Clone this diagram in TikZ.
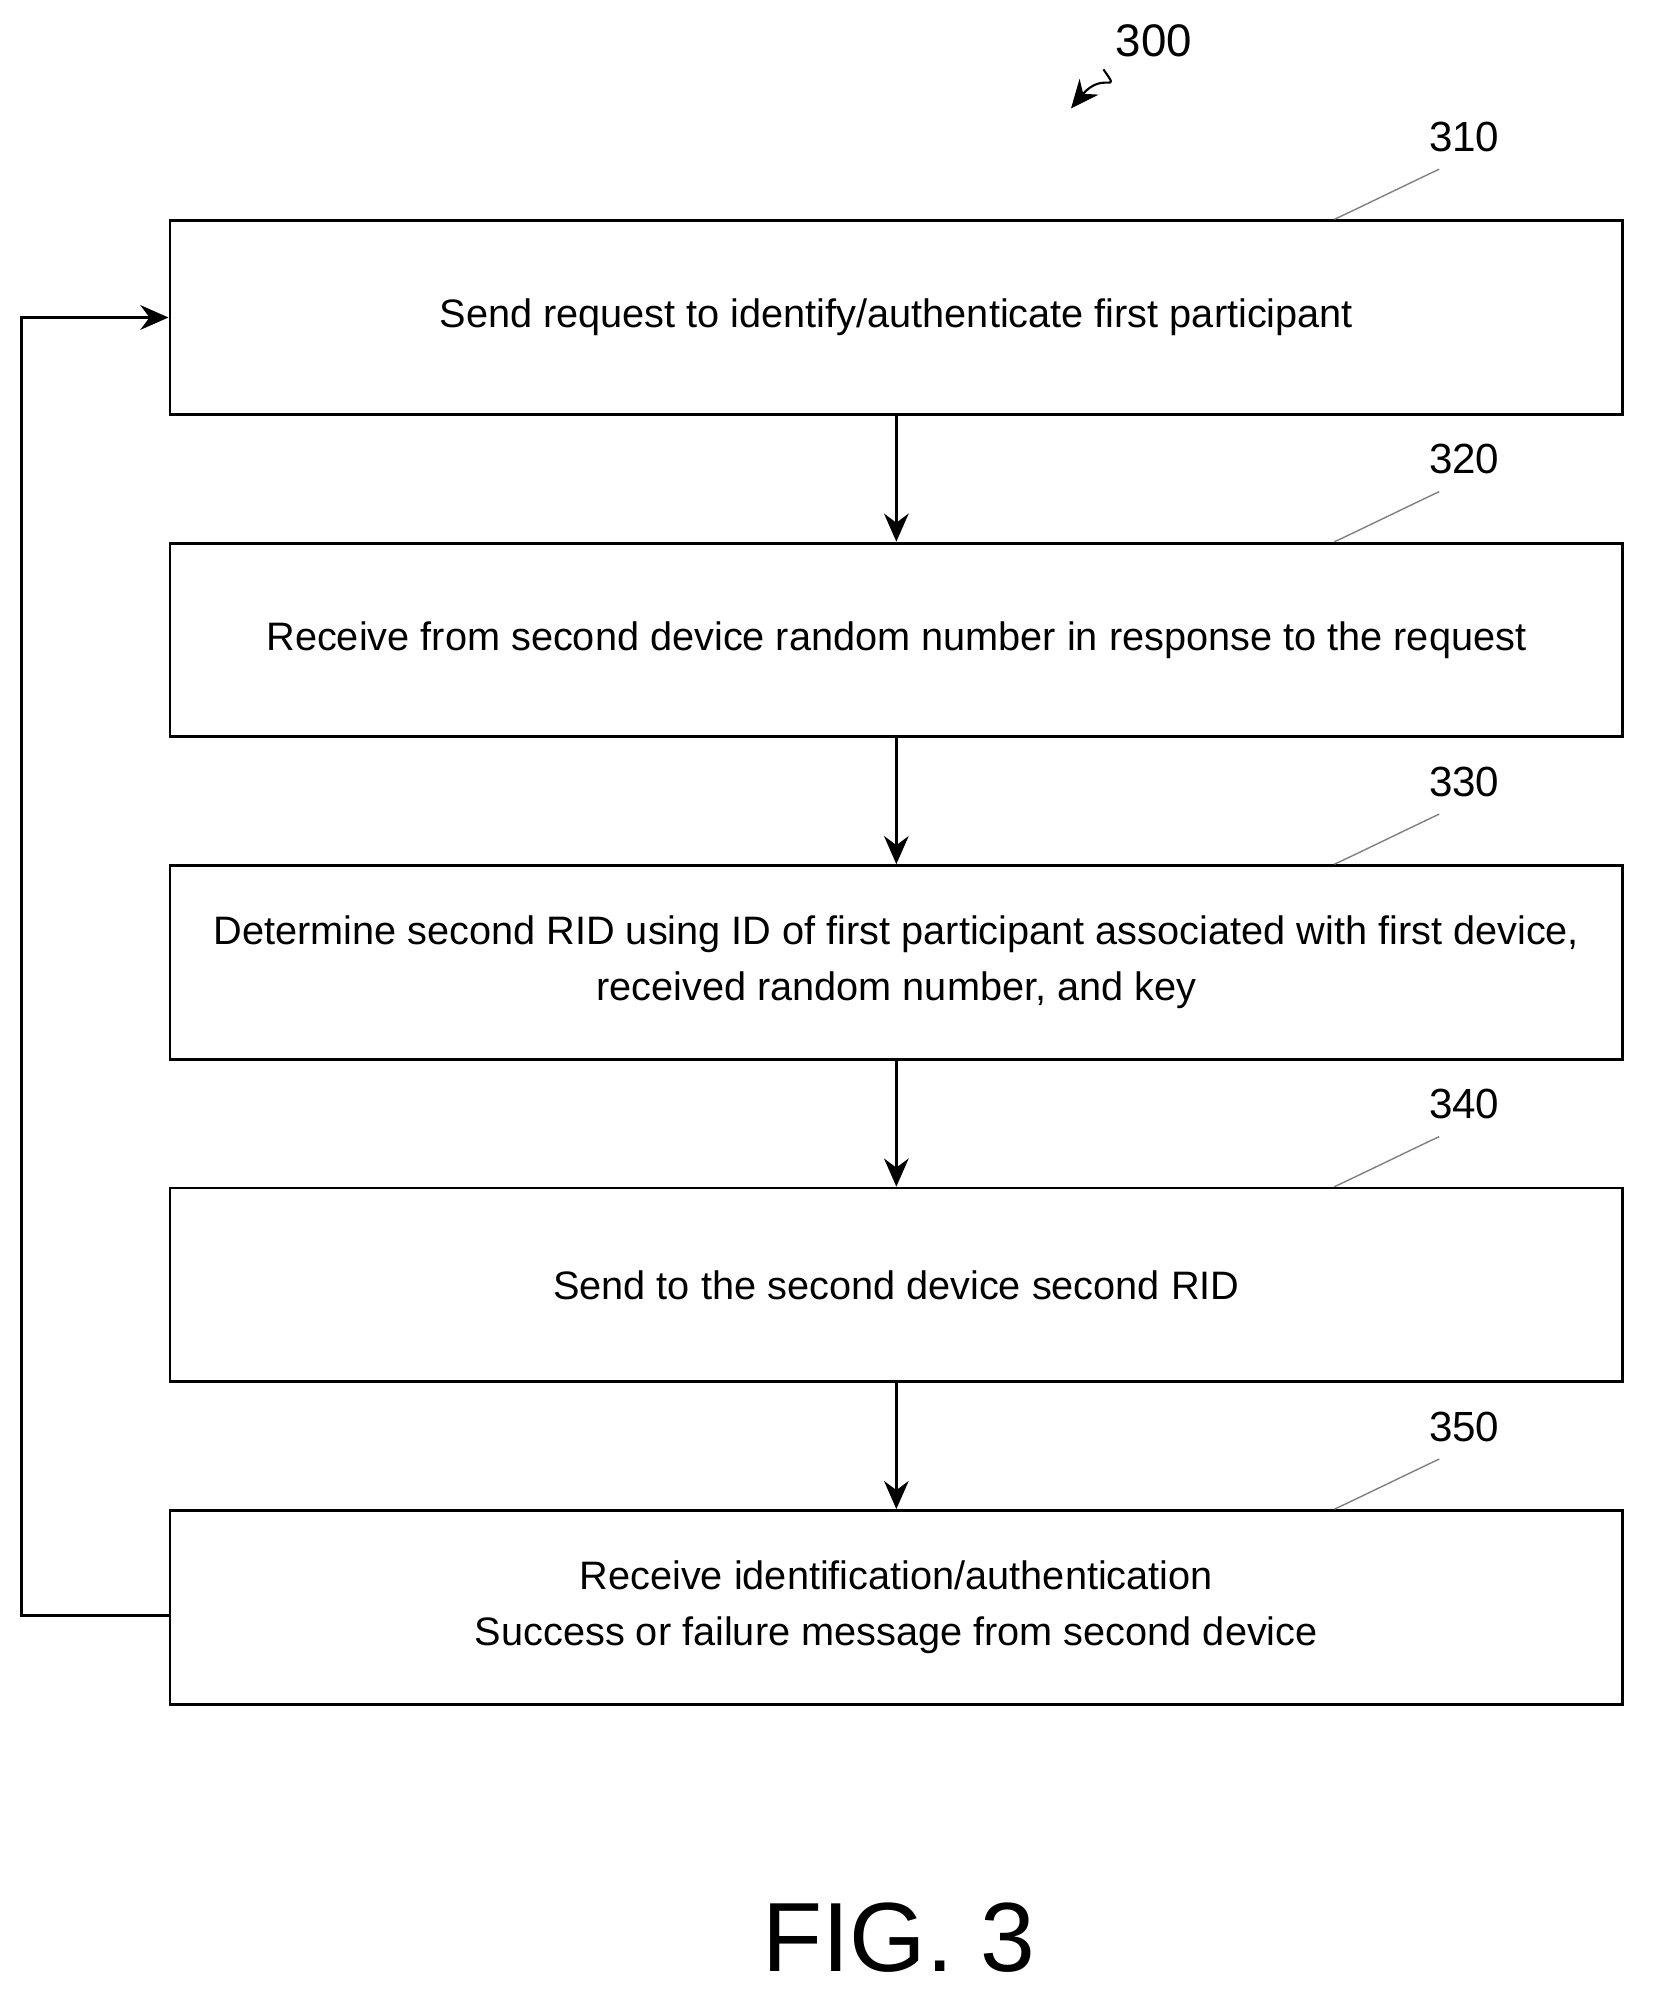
\documentclass[tikz,border=0pt]{standalone}
\usepackage{fontspec}
\setmainfont{Liberation Sans}
\usetikzlibrary{positioning,arrows.meta}

\tikzset{
 stepbox/.style={draw, line width=0.8pt, minimum width=14.535cm, minimum height=1.938cm, align=center, font=\fontsize{11.3}{16}\selectfont, inner sep=0pt},
 flow/.style={-{Stealth[length=8pt,width=7pt]}, line width=0.8pt},
 ref/.style={font=\fontsize{12}{14}\selectfont},
 lead/.style={line width=0.4pt, gray}
}

\begin{document}
\begin{tikzpicture}[x=0.01275cm,y=-0.01275cm]
\useasboundingbox (0,0) rectangle (1300,1578);

\node[stepbox] (s310) at (703,249) {Send request to identify/authenticate first participant};
\node[stepbox, below=1.26cm of s310] (s320) {Receive from second device random number in response to the request};
\node[stepbox, below=1.26cm of s320] (s330) {Determine second RID using ID of first participant associated with first device,\\received random number, and key};
\node[stepbox, below=1.26cm of s330] (s340) {Send to the second device second RID};
\node[stepbox, below=1.26cm of s340] (s350) {Receive identification/authentication\\Success or failure message from second device};

% arrows between steps
\foreach \a/\b in {s310/s320, s320/s330, s330/s340, s340/s350}
\draw[flow] (\a) -- (\b);

% loop back
\coordinate (c1) at (17,1267);
\coordinate (c2) at (17,249);
\draw[flow] (s350.west |- c1) -- (c1) -- (c2) -- (s310.west);

% reference numerals
\foreach \n in {310,320,330,340,350}{
 \node[ref, above left=0.55cm and 1.6cm of s\n.north east, anchor=south] (r\n) {\n};
 \draw[lead] ([xshift=-2.9cm]s\n.north east) .. controls ++(0.3,0.35) and ++(-0.2,-0.3) .. ([xshift=-0.25cm,yshift=-0.05cm]r\n.south);
}

\node[ref, font=\fontsize{13}{15}\selectfont] (r300) at (905,32) {300};
\coordinate (t300) at (840,85);
\draw[flow, line width=0.6pt] (r300.south west) .. controls (880,75) and (865,55) .. (t300);

\node[font=\fontsize{28}{32}\selectfont] (fig) at (705,1520) {FIG. 3};
\end{tikzpicture}
\end{document}
